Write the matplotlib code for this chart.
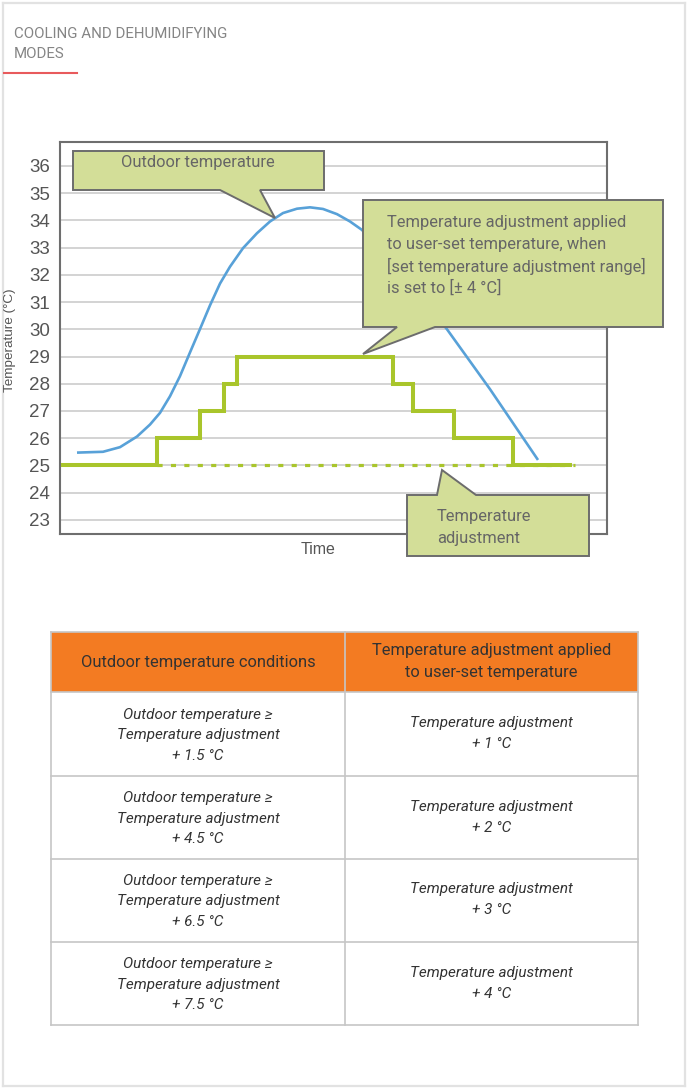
import matplotlib
matplotlib.use("Agg")
import matplotlib.pyplot as plt
from matplotlib.patches import Polygon, Rectangle
from matplotlib.lines import Line2D
from matplotlib.transforms import Affine2D

# ---------------- data ----------------
title_lines = ["COOLING AND DEHUMIDIFYING", "MODES"]

outdoor_time = [17, 43, 60, 77, 90, 100, 110, 120, 130, 140, 150, 160, 170, 183, 197,
                210, 223, 237, 250, 263, 277, 290, 302, 345, 387, 430, 478]
outdoor_temp = [25.47, 25.5, 25.67, 26.06, 26.5, 26.93, 27.54, 28.28, 29.15, 30.01,
                30.88, 31.68, 32.3, 32.98, 33.53, 33.96, 34.27, 34.43, 34.48, 34.42,
                34.23, 33.96, 33.65, 31.9, 30.0, 27.8, 25.2]

step_time = [3, 97, 140, 164, 177, 333, 353, 394, 453, 510]
step_temp = [25, 26, 27, 28, 29, 28, 27, 26, 25, 25]

base_time = [97, 515]
base_temp = [25, 25]

y_ticks = list(range(23, 37))
y_label = "Temperature (°C)"
x_label = "Time"

callout_outdoor = "Outdoor temperature"
callout_applied = ["Temperature adjustment applied", "to user-set temperature, when",
                   "[set temperature adjustment range]", "is set to [± 4 °C]"]
callout_adjust = ["Temperature", "adjustment"]

table_header = ["Outdoor temperature conditions",
                "Temperature adjustment applied\nto user-set temperature"]
table_conditions = ["Outdoor temperature ≥\nTemperature adjustment\n+ 1.5 °C",
                    "Outdoor temperature ≥\nTemperature adjustment\n+ 4.5 °C",
                    "Outdoor temperature ≥\nTemperature adjustment\n+ 6.5 °C",
                    "Outdoor temperature ≥\nTemperature adjustment\n+ 7.5 °C"]
table_adjust = ["Temperature adjustment\n+ 1 °C",
                "Temperature adjustment\n+ 2 °C",
                "Temperature adjustment\n+ 3 °C",
                "Temperature adjustment\n+ 4 °C"]

# ---------------- styles ----------------
W, H = 688, 1088
GREEN = "#a9c52b"
BLUE = "#58a1d8"
CALLOUT_FILL = "#d3de98"
CALLOUT_EDGE = "#6c6c6c"
NARROW = ["Liberation Sans Narrow", "Roboto", "DejaVu Sans"]

fig = plt.figure(figsize=(W / 100, H / 100), dpi=100)
fig.patch.set_facecolor("white")
T = Affine2D().scale(1 / W, -1 / H).translate(0, 1) + fig.transFigure

# page border
border_c = "#e2e2e2"
for xs, ys in [([3, 3], [3, 1086]), ([3, 685], [3, 3]), ([685, 685], [3, 1086]), ([3, 685], [1086, 1086])]:
    fig.add_artist(Line2D(xs, ys, transform=T, color=border_c, lw=1.6))

# title
for i, s in enumerate(title_lines):
    fig.text(14, 34 + 20 * i, s, transform=T, fontsize=10.8, family=["Roboto", "DejaVu Sans"],
             color="#858585", va="center", ha="left")
fig.add_artist(Line2D([4, 77], [73, 73], transform=T, color="#e85a5c", lw=1.5))

# ---------------- chart ----------------
ax_l, ax_r, ax_t, ax_b = 60, 607, 142, 534
ax = fig.add_axes([ax_l / W, 1 - ax_b / H, (ax_r - ax_l) / W, (ax_b - ax_t) / H])
ax.set_xlim(0, ax_r - ax_l)
ax.set_ylim(22.48, 36.88)
ax.set_yticks(y_ticks)
ax.set_yticklabels([str(v) for v in y_ticks], family=["Liberation Sans", "DejaVu Sans"],
                   fontsize=13.5, color="#555555")
ax.set_xticks([])
ax.tick_params(axis="y", length=0, pad=7)
for v in y_ticks:
    ax.axhline(v, color="#c8c8c8", lw=1.1, zorder=1)
for sp in ax.spines.values():
    sp.set_color("#6e6e6e")
    sp.set_linewidth(1.5)

ax.plot(outdoor_time, outdoor_temp, color=BLUE, lw=1.9, zorder=3, solid_capstyle="butt",
        solid_joinstyle="round")
ax.plot(base_time, base_temp, color=GREEN, lw=2.3, dashes=(1.6, 2.6), zorder=2)
ax.step(step_time, step_temp, where="post", color=GREEN, lw=2.9, zorder=4,
        solid_joinstyle="miter")

fig.text(10, 340, y_label, transform=T, rotation=90, fontsize=9.7,
         family=["Liberation Sans", "DejaVu Sans"], color="#555555", ha="center", va="center")
fig.text(318, 549, x_label, transform=T, fontsize=11.5,
         family=["Liberation Sans", "DejaVu Sans"], color="#555555", ha="center", va="center")

# ---------------- callouts ----------------
def callout(pts):
    fig.add_artist(Polygon(pts, closed=True, transform=T, facecolor=CALLOUT_FILL,
                           edgecolor=CALLOUT_EDGE, lw=1.4, zorder=5, joinstyle="miter"))

CFS = 11.9
callout([(73, 151), (324, 151), (324, 190), (260, 190), (275, 218), (220, 190), (73, 190)])
fig.text(121, 163, callout_outdoor, transform=T, fontsize=CFS, family=NARROW,
         color="#666666", ha="left", va="center", zorder=6)

callout([(363, 200), (663, 200), (663, 327), (435, 327), (363, 354), (397, 327), (363, 327)])
for i, s in enumerate(callout_applied):
    fig.text(387, 222 + 22 * i, s, transform=T, fontsize=CFS, family=NARROW,
             color="#666666", ha="left", va="center", zorder=6)

callout([(407, 495), (437, 495), (442, 470), (476, 495), (589, 495), (589, 556), (407, 556)])
for i, s in enumerate(callout_adjust):
    fig.text(437, 516 + 22 * i, s, transform=T, fontsize=CFS, family=NARROW,
             color="#666666", ha="left", va="center", zorder=6)

# ---------------- table ----------------
tl, tm, tr = 51, 345, 638
row_edges = [632, 692, 776, 859, 942, 1025]
grid_c = "#c6c6c6"
fig.add_artist(Rectangle((tl, row_edges[0]), tr - tl, row_edges[1] - row_edges[0], transform=T,
                         facecolor="#f37b22", edgecolor="none", zorder=2))
for y in row_edges:
    fig.add_artist(Line2D([tl, tr], [y, y], transform=T, color=grid_c, lw=1.2, zorder=3))
for x in [tl, tm, tr]:
    fig.add_artist(Line2D([x, x], [row_edges[0], row_edges[-1]], transform=T, color=grid_c,
                          lw=1.2, zorder=3))


def cell_text(xc, yc, text, spacing, **kw):
    lines = text.split("\n")
    n = len(lines)
    for k, s in enumerate(lines):
        fig.text(xc, yc + (k - (n - 1) / 2) * spacing, s, transform=T, ha="center",
                 va="center", zorder=4, **kw)


hy = (row_edges[0] + row_edges[1]) / 2
cell_text((tl + tm) / 2, hy, table_header[0], 22, fontsize=11.9, family=NARROW, color="#333333")
cell_text((tm + tr) / 2, hy - 1, table_header[1], 22, fontsize=11.9, family=NARROW, color="#333333")

for i in range(len(table_conditions)):
    cy = (row_edges[i + 1] + row_edges[i + 2]) / 2
    cell_text((tl + tm) / 2, cy + 1, table_conditions[i], 20.5, fontsize=11, family=NARROW,
              style="italic", color="#333333")
    cell_text((tm + tr) / 2, cy - 0.5, table_adjust[i], 21, fontsize=11, family=NARROW,
              style="italic", color="#333333")

fig.savefig("out.png", dpi=100, facecolor="white")
